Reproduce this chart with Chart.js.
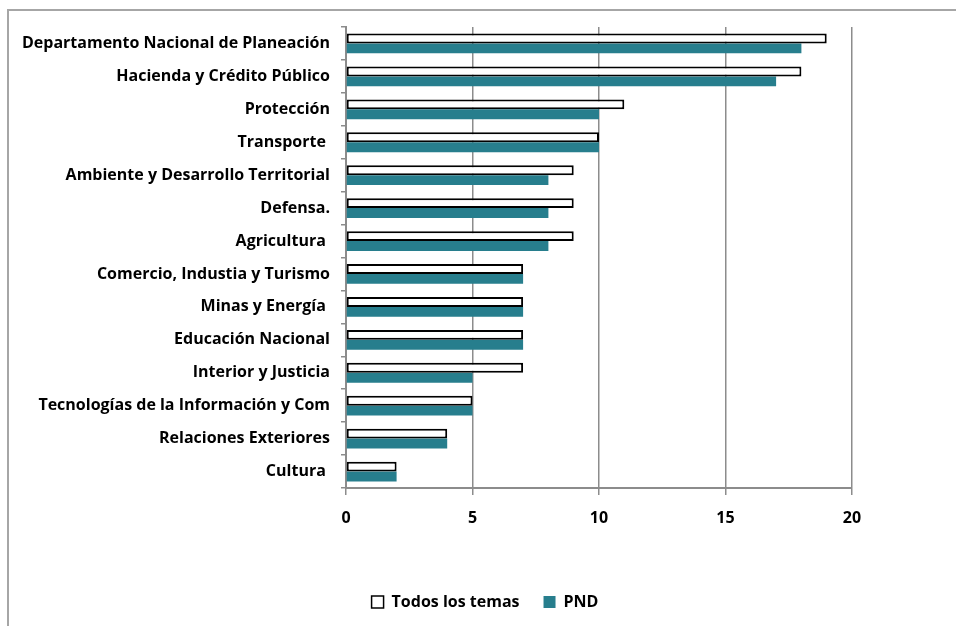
<!DOCTYPE html>
<html>
<head>
<meta charset="utf-8">
<script src="https://cdn.jsdelivr.net/npm/chart.js@4"></script>
<style>
  html, body { margin: 0; padding: 0; background: #fff; overflow: hidden; }
  #wrap { position: relative; width: 956px; height: 626px; }
  #frame { position: absolute; left: 7px; top: 9px; width: 1000px; height: 700px;
           border: 2px solid #a6a6a6; box-sizing: border-box; pointer-events: none; }
  canvas { position: absolute; left: 0; top: 0; }
</style>
</head>
<body>
<div id="wrap">
  <div id="frame"></div>
  <canvas id="chart" width="956" height="626"></canvas>
</div>
<script>
// Entidades (categorias)
const labels = [
  "Departamento Nacional de Planeación",
  "Hacienda y Crédito Público",
  "Protección",
  "Transporte ",
  "Ambiente y Desarrollo Territorial",
  "Defensa.",
  "Agricultura ",
  "Comercio, Industia y Turismo",
  "Minas y Energía ",
  "Educación Nacional",
  "Interior y Justicia",
  "Tecnologías de la Información y Com",
  "Relaciones Exteriores",
  "Cultura "
];

const todosLosTemas = [19, 18, 11, 10, 9, 9, 9, 7, 7, 7, 7, 5, 4, 2];
const pnd = [18, 17, 10, 10, 8, 8, 8, 7, 7, 7, 5, 5, 4, 2];

const xTicks = [0, 5, 10, 15, 20];

const teal = "#277e8d";
const gridGray = "#8c8c8c";
const fontFamily = "'Open Sans', 'DejaVu Sans', sans-serif";

// center the legend on the whole frame, not only the plot column
const legendShift = {
  id: "legendShift",
  afterLayout(chart) {
    const lg = chart.legend;
    if (!lg) return;
    lg.left = 14;
    lg.right = 956;
  },
};

const ctx = document.getElementById("chart").getContext("2d");
new Chart(ctx, {
  type: "bar",
  data: {
    labels: labels,
    datasets: [
      {
        label: "Todos los temas",
        data: todosLosTemas,
        backgroundColor: "#ffffff",
        borderColor: "#000000",
        borderWidth: 2,
        borderSkipped: false,
      },
      {
        label: "PND",
        data: pnd,
        backgroundColor: teal,
        borderWidth: 0,
      },
    ],
  },
  options: {
    indexAxis: "y",
    responsive: false,
    animation: false,
    devicePixelRatio: 1,
    layout: {
      padding: { top: 27, right: 104, bottom: 6, left: 0 },
    },
    datasets: {
      bar: { categoryPercentage: 0.6, barPercentage: 1.0 },
    },
    scales: {
      x: {
        min: 0,
        max: 20,
        afterBuildTicks: (axis) => {
          axis.ticks = xTicks.map((v) => ({ value: v }));
        },
        afterFit: (axis) => {
          axis.height = 82;
        },
        grid: {
          color: gridGray,
          lineWidth: 1.5,
          tickLength: 7,
          drawTicks: true,
        },
        border: { color: gridGray, width: 2 },
        ticks: {
          color: "#000",
          padding: 14,
          font: { family: fontFamily, size: 16, weight: "bold" },
        },
      },
      y: {
        afterFit: (axis) => {
          axis.width = 346;
        },
        grid: {
          offset: true,
          drawOnChartArea: false,
          color: gridGray,
          lineWidth: 1.5,
          tickLength: 5,
        },
        border: { color: gridGray, width: 2 },
        ticks: {
          color: "#000",
          padding: 11,
          autoSkip: false,
          font: { family: fontFamily, size: 16, weight: "bold" },
        },
      },
    },
    plugins: {
      legend: {
        position: "bottom",
        labels: {
          color: "#000",
          boxWidth: 12,
          boxHeight: 12,
          padding: 24,
          font: { family: fontFamily, size: 16, weight: "bold" },
          generateLabels: (chart) =>
            chart.data.datasets.map((ds, i) => ({
              text: ds.label,
              fillStyle: ds.backgroundColor,
              strokeStyle: i === 0 ? "#000" : ds.backgroundColor,
              lineWidth: i === 0 ? 1.5 : 0,
              fontColor: "#000",
              datasetIndex: i,
            })),
        },
      },
      tooltip: { enabled: false },
    },
  },
  plugins: [legendShift],
});
</script>
</body>
</html>
